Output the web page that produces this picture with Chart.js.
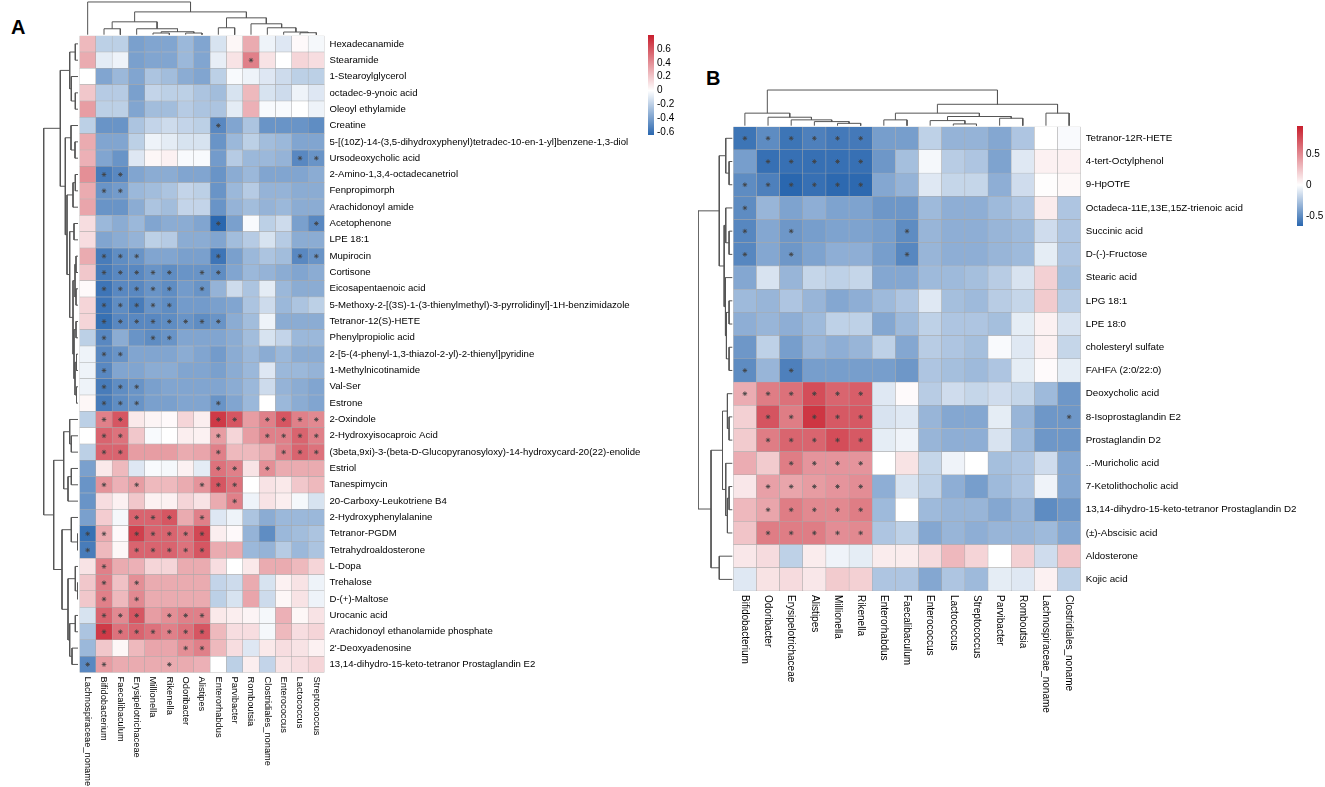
<!DOCTYPE html>
<html>
<head>
<meta charset="utf-8">
<title>Correlation heatmaps</title>
<script src="https://cdn.jsdelivr.net/npm/chart.js@4.4.0/dist/chart.umd.min.js"></script>
<style>
  body { margin: 0; background: #fff; width: 1325px; height: 787px; position: relative; overflow: hidden; font-family: "Liberation Sans", Arial, sans-serif; }
  .box { position: absolute; }
  .tag { position: absolute; font-weight: bold; font-size: 20px; line-height: 1; }
</style>
</head>
<body>
<div class="tag" style="left:11px;top:17px">A</div>
<div class="tag" style="left:706px;top:68px">B</div>
<div class="box" style="left:0;top:0;width:660px;height:787px"><canvas id="heatA"></canvas></div>
<div class="box" style="left:640px;top:25px;width:60px;height:125px"><canvas id="keyA"></canvas></div>
<div class="box" style="left:690px;top:0;width:620px;height:787px"><canvas id="heatB"></canvas></div>
<div class="box" style="left:1289px;top:116px;width:36px;height:120px"><canvas id="keyB"></canvas></div>
<script>
// ---- panel A ----
const colsA = ['Lachnospiraceae_noname', 'Bifidobacterium', 'Faecalibaculum', 'Erysipelotrichaceae', 'Millionella',
  'Rikenella', 'Odoribacter', 'Alistipes', 'Enterorhabdus', 'Parvibacter', 'Romboutsia', 'Clostridiales_noname',
  'Enterococcus', 'Lactococcus', 'Streptococcus'];

const rowsA = ['Hexadecanamide', 'Stearamide', '1-Stearoylglycerol', 'octadec-9-ynoic acid', 'Oleoyl ethylamide',
  'Creatine', '5-[(10Z)-14-(3,5-dihydroxyphenyl)tetradec-10-en-1-yl]benzene-1,3-diol', 'Ursodeoxycholic acid',
  '2-Amino-1,3,4-octadecanetriol', 'Fenpropimorph', 'Arachidonoyl amide', 'Acetophenone', 'LPE 18:1', 'Mupirocin',
  'Cortisone', 'Eicosapentaenoic acid', '5-Methoxy-2-[(3S)-1-(3-thienylmethyl)-3-pyrrolidinyl]-1H-benzimidazole',
  'Tetranor-12(S)-HETE', 'Phenylpropiolic acid', '2-[5-(4-phenyl-1,3-thiazol-2-yl)-2-thienyl]pyridine',
  '1-Methylnicotinamide', 'Val-Ser', 'Estrone', '2-Oxindole', '2-Hydroxyisocaproic Acid',
  '(3beta,9xi)-3-(beta-D-Glucopyranosyloxy)-14-hydroxycard-20(22)-enolide', 'Estriol', 'Tanespimycin',
  '20-Carboxy-Leukotriene B4', '2-Hydroxyphenylalanine', 'Tetranor-PGDM', 'Tetrahydroaldosterone', 'L-Dopa',
  'Trehalose', 'D-(+)-Maltose', 'Urocanic acid', 'Arachidonoyl ethanolamide phosphate', "2'-Deoxyadenosine",
  '13,14-dihydro-15-keto-tetranor Prostaglandin E2'];

const valuesA = [
  [0.25, -0.2, -0.2, -0.4, -0.38, -0.38, -0.3, -0.38, -0.12, 0.03, 0.3, -0.05, -0.1, 0.02, -0.03],
  [0.3, -0.08, -0.05, -0.4, -0.38, -0.38, -0.3, -0.38, -0.07, 0.1, 0.45, 0.1, 0.0, 0.15, 0.12],
  [0.0, -0.38, -0.3, -0.38, -0.25, -0.28, -0.35, -0.38, -0.2, -0.02, -0.05, -0.1, -0.15, -0.2, -0.2],
  [0.2, -0.22, -0.22, -0.4, -0.18, -0.2, -0.2, -0.25, -0.28, -0.12, 0.25, -0.12, -0.15, -0.05, -0.1],
  [0.35, -0.2, -0.2, -0.38, -0.28, -0.28, -0.22, -0.25, -0.25, -0.08, 0.28, -0.02, -0.02, 0.0, -0.05],
  [-0.2, -0.45, -0.45, -0.25, -0.18, -0.15, -0.18, -0.2, -0.5, -0.38, -0.25, -0.45, -0.45, -0.45, -0.48],
  [0.3, -0.38, -0.38, -0.2, -0.05, -0.08, -0.12, -0.12, -0.45, -0.3, -0.2, -0.28, -0.3, -0.38, -0.38],
  [0.28, -0.38, -0.45, -0.1, 0.03, 0.05, -0.02, -0.02, -0.42, -0.22, -0.3, -0.3, -0.32, -0.5, -0.45],
  [0.4, -0.55, -0.5, -0.38, -0.35, -0.35, -0.38, -0.38, -0.45, -0.35, -0.3, -0.38, -0.38, -0.38, -0.35],
  [0.3, -0.45, -0.42, -0.3, -0.28, -0.25, -0.18, -0.2, -0.45, -0.3, -0.22, -0.32, -0.32, -0.35, -0.35],
  [0.32, -0.45, -0.45, -0.35, -0.25, -0.28, -0.18, -0.18, -0.45, -0.32, -0.28, -0.32, -0.3, -0.35, -0.35],
  [0.12, -0.3, -0.35, -0.3, -0.38, -0.35, -0.35, -0.38, -0.65, -0.4, -0.02, -0.2, -0.15, -0.4, -0.5],
  [0.12, -0.38, -0.35, -0.32, -0.2, -0.22, -0.35, -0.35, -0.38, -0.28, -0.22, -0.12, -0.22, -0.35, -0.35],
  [0.3, -0.55, -0.48, -0.45, -0.38, -0.38, -0.4, -0.4, -0.58, -0.4, -0.3, -0.25, -0.28, -0.5, -0.45],
  [0.2, -0.55, -0.5, -0.5, -0.45, -0.48, -0.45, -0.45, -0.48, -0.38, -0.3, -0.32, -0.35, -0.38, -0.35],
  [0.02, -0.58, -0.5, -0.5, -0.45, -0.48, -0.42, -0.45, -0.32, -0.15, -0.25, -0.08, -0.3, -0.35, -0.35],
  [0.15, -0.58, -0.48, -0.55, -0.45, -0.48, -0.42, -0.42, -0.4, -0.38, -0.25, -0.15, -0.3, -0.25, -0.2],
  [0.15, -0.6, -0.5, -0.5, -0.5, -0.48, -0.45, -0.48, -0.45, -0.35, -0.28, -0.05, -0.35, -0.35, -0.35],
  [-0.2, -0.5, -0.35, -0.45, -0.48, -0.45, -0.38, -0.38, -0.38, -0.35, -0.28, -0.12, -0.18, -0.3, -0.3],
  [-0.05, -0.5, -0.45, -0.38, -0.38, -0.38, -0.35, -0.38, -0.42, -0.35, -0.3, -0.35, -0.3, -0.35, -0.35],
  [-0.05, -0.5, -0.38, -0.38, -0.35, -0.35, -0.38, -0.38, -0.4, -0.35, -0.3, -0.1, -0.3, -0.3, -0.32],
  [-0.05, -0.55, -0.48, -0.45, -0.4, -0.38, -0.38, -0.38, -0.38, -0.35, -0.3, -0.15, -0.32, -0.35, -0.38],
  [0.03, -0.55, -0.48, -0.45, -0.4, -0.4, -0.38, -0.38, -0.45, -0.38, -0.3, 0.0, -0.3, -0.35, -0.38],
  [-0.2, 0.45, 0.6, 0.08, 0.04, 0.02, 0.15, 0.06, 0.7, 0.6, 0.35, 0.45, 0.6, 0.45, 0.42],
  [0.0, 0.55, 0.5, 0.2, -0.02, 0.0, 0.06, 0.05, 0.35, 0.15, 0.35, 0.45, 0.45, 0.55, 0.45],
  [-0.2, 0.55, 0.55, 0.35, 0.35, 0.35, 0.3, 0.32, 0.45, 0.25, 0.25, 0.3, 0.45, 0.55, 0.5],
  [-0.4, 0.08, 0.25, -0.1, -0.02, -0.03, 0.05, -0.08, 0.5, 0.45, 0.1, 0.4, 0.3, 0.3, 0.3],
  [-0.45, 0.38, 0.28, 0.35, 0.25, 0.25, 0.3, 0.38, 0.6, 0.5, 0.0, 0.1, 0.08, 0.2, 0.25],
  [-0.45, 0.12, 0.05, 0.2, 0.05, 0.05, 0.15, 0.1, 0.3, 0.45, -0.05, 0.1, 0.06, -0.03, -0.12],
  [-0.4, 0.18, -0.03, 0.55, 0.55, 0.6, 0.3, 0.45, -0.1, -0.05, -0.25, -0.35, -0.3, -0.3, -0.3],
  [-0.6, 0.3, 0.02, 0.68, 0.55, 0.55, 0.5, 0.65, 0.06, 0.02, -0.32, -0.48, -0.3, -0.28, -0.25],
  [-0.55, 0.25, 0.03, 0.55, 0.55, 0.55, 0.5, 0.6, 0.3, 0.3, -0.3, -0.32, -0.22, -0.3, -0.25],
  [0.1, 0.45, 0.3, 0.28, 0.15, 0.15, 0.3, 0.3, 0.12, 0.0, 0.08, 0.3, 0.3, 0.25, 0.15],
  [0.2, 0.45, 0.22, 0.4, 0.3, 0.3, 0.3, 0.3, -0.18, -0.15, 0.3, -0.12, 0.05, 0.1, -0.05],
  [0.2, 0.45, 0.25, 0.42, 0.3, 0.3, 0.3, 0.3, -0.2, -0.12, 0.32, -0.15, 0.03, 0.1, -0.05],
  [-0.12, 0.55, 0.42, 0.6, 0.35, 0.4, 0.45, 0.45, 0.08, 0.06, 0.04, -0.03, 0.28, 0.03, 0.1],
  [-0.25, 0.7, 0.5, 0.55, 0.5, 0.45, 0.5, 0.6, 0.25, 0.12, 0.12, -0.03, 0.25, 0.12, 0.15],
  [-0.3, 0.2, 0.03, 0.25, 0.32, 0.32, 0.4, 0.45, 0.25, 0.12, -0.1, 0.08, 0.12, 0.1, 0.05],
  [-0.5, 0.35, 0.3, 0.3, 0.3, 0.3, 0.3, 0.28, 0.0, -0.2, 0.06, -0.18, 0.1, 0.12, 0.15]
];

// column indexes that carry a "*" in each row
const starsA = [[], [10], [], [], [], [8], [], [13, 14], [1, 2], [1, 2], [], [8, 14], [],
  [1, 2, 3, 8, 13, 14], [1, 2, 3, 4, 5, 7, 8], [1, 2, 3, 4, 5, 7], [1, 2, 3, 4, 5], [1, 2, 3, 4, 5, 6, 7, 8],
  [1, 4, 5], [1, 2], [1], [1, 2, 3], [1, 2, 3, 8], [1, 2, 8, 9, 11, 12, 13, 14], [1, 2, 8, 11, 12, 13, 14],
  [1, 2, 8, 12, 13, 14], [8, 9, 11], [1, 3, 7, 8, 9], [9], [3, 4, 5, 7], [0, 1, 3, 4, 5, 6, 7],
  [0, 3, 4, 5, 6, 7], [1], [1, 3], [1, 3], [1, 2, 3, 5, 6, 7], [1, 2, 3, 4, 5, 6, 7], [6, 7], [0, 1, 5]];

// dendrograms as [height, left, right], leaves are display indexes
const treeColsA = [33, 0, [23, [13, [6, 1, 2], [6, 3, [3, [1.7, 4, 5], [1.7, 6, 7]]]],
  [17, [7, 8, 9], [11, 10, [7, 11, [2.7, 12, [2, 13, 14]]]]]]];
const treeRowsA = [34.3,
  [17.7,
    [8.3, [2.7, 0, 1], [6.7, 2, [2.7, 3, 4]]],
    [12.7,
      [7, 5, [3, 6, 7]],
      [11,
        [5, [2.7, 8, 9], 10],
        [8.3, [4, 11, 12],
          [5, [3, [2, 13, 14], [2, 15, 16]], [4, [2, 17, 18], [3, [1.5, 19, 20], [1.5, 21, 22]]]]]]]],
  [24.3,
    [14.3, [8.3, 23, [6.7, 24, 25]], [10, [6.7, 26, 27], 28]],
    [16, [6.7, 29, [0.5, 30, 31]], [10, [2.7, 32, [0.5, 33, 34]], [8.3, [2.7, 35, 36], [6, 37, 38]]]]]];

const rangeA = [-0.64, 0.8];
const keyTicksA = [-0.6, -0.4, -0.2, 0, 0.2, 0.4, 0.6];

// ---- panel B ----
const colsB = ['Bifidobacterium', 'Odoribacter', 'Erysipelotrichaceae', 'Alistipes', 'Millionella', 'Rikenella',
  'Enterorhabdus', 'Faecalibaculum', 'Enterococcus', 'Lactococcus', 'Streptococcus', 'Parvibacter', 'Romboutsia',
  'Lachnospiraceae_noname', 'Clostridiales_noname'];

const rowsB = ['Tetranor-12R-HETE', '4-tert-Octylphenol', '9-HpOTrE', 'Octadeca-11E,13E,15Z-trienoic acid',
  'Succinic acid', 'D-(-)-Fructose', 'Stearic acid', 'LPG 18:1', 'LPE 18:0', 'cholesteryl sulfate',
  'FAHFA (2:0/22:0)', 'Deoxycholic acid', '8-Isoprostaglandin E2', 'Prostaglandin D2', '..-Muricholic acid',
  '7-Ketolithocholic acid', '13,14-dihydro-15-keto-tetranor Prostaglandin D2', '(±)-Abscisic acid',
  'Aldosterone', 'Kojic acid'];

const valuesB = [
  [-0.6, -0.5, -0.6, -0.55, -0.58, -0.58, -0.42, -0.42, -0.2, -0.33, -0.33, -0.38, -0.25, 0.0, -0.02],
  [-0.42, -0.62, -0.62, -0.62, -0.62, -0.62, -0.45, -0.28, -0.03, -0.22, -0.25, -0.4, -0.1, 0.06, 0.06],
  [-0.5, -0.55, -0.68, -0.62, -0.65, -0.65, -0.38, -0.33, -0.1, -0.18, -0.18, -0.35, -0.15, 0.01, 0.03],
  [-0.5, -0.32, -0.4, -0.35, -0.4, -0.4, -0.45, -0.45, -0.3, -0.35, -0.35, -0.3, -0.25, 0.08, -0.25],
  [-0.52, -0.38, -0.45, -0.42, -0.4, -0.4, -0.42, -0.5, -0.32, -0.35, -0.35, -0.32, -0.3, -0.15, -0.25],
  [-0.52, -0.38, -0.45, -0.4, -0.35, -0.35, -0.42, -0.52, -0.32, -0.35, -0.35, -0.32, -0.3, -0.08, -0.25],
  [-0.38, -0.12, -0.32, -0.18, -0.2, -0.18, -0.38, -0.38, -0.3, -0.3, -0.28, -0.22, -0.12, 0.2, -0.28],
  [-0.3, -0.32, -0.25, -0.32, -0.38, -0.35, -0.3, -0.25, -0.1, -0.28, -0.3, -0.22, -0.18, 0.22, -0.22],
  [-0.35, -0.32, -0.35, -0.3, -0.2, -0.2, -0.38, -0.3, -0.2, -0.25, -0.25, -0.28, -0.08, 0.06, -0.12],
  [-0.45, -0.2, -0.42, -0.32, -0.35, -0.32, -0.2, -0.38, -0.22, -0.25, -0.28, -0.02, -0.1, 0.06, -0.18],
  [-0.5, -0.32, -0.55, -0.42, -0.42, -0.42, -0.42, -0.45, -0.25, -0.28, -0.3, -0.25, -0.08, 0.02, -0.08],
  [0.35, 0.55, 0.6, 0.75, 0.65, 0.68, -0.1, 0.02, -0.22, -0.15, -0.18, -0.15, -0.18, -0.3, -0.45],
  [0.2, 0.72, 0.55, 0.85, 0.7, 0.7, -0.12, -0.1, -0.32, -0.38, -0.38, -0.08, -0.32, -0.45, -0.45],
  [0.22, 0.55, 0.65, 0.65, 0.75, 0.7, -0.08, -0.05, -0.32, -0.35, -0.35, -0.12, -0.3, -0.45, -0.45],
  [0.35, 0.22, 0.55, 0.45, 0.45, 0.45, 0.0, 0.12, -0.18, -0.05, 0.0, -0.28, -0.25, -0.15, -0.38],
  [0.1, 0.4, 0.38, 0.42, 0.45, 0.48, -0.35, -0.12, -0.2, -0.35, -0.42, -0.3, -0.25, -0.05, -0.38],
  [0.3, 0.38, 0.55, 0.5, 0.5, 0.55, -0.3, 0.0, -0.3, -0.32, -0.32, -0.38, -0.32, -0.5, -0.45],
  [0.25, 0.55, 0.55, 0.55, 0.48, 0.5, -0.25, -0.2, -0.38, -0.32, -0.35, -0.32, -0.32, -0.3, -0.38],
  [0.1, 0.15, -0.2, 0.08, -0.05, -0.08, 0.08, 0.08, 0.15, 0.3, 0.18, 0.0, 0.2, -0.15, 0.25],
  [-0.1, 0.12, 0.15, 0.1, 0.22, 0.2, -0.25, -0.25, -0.38, -0.25, -0.3, -0.08, -0.1, 0.06, -0.2]
];

const starsB = [[0, 1, 2, 3, 4, 5], [1, 2, 3, 4, 5], [0, 1, 2, 3, 4, 5], [0], [0, 2, 7], [0, 2, 7], [], [], [], [],
  [0, 2], [0, 1, 2, 3, 4, 5], [1, 2, 3, 4, 5, 14], [1, 2, 3, 4, 5], [2, 3, 4, 5], [1, 2, 3, 4, 5],
  [1, 2, 3, 4, 5], [1, 2, 3, 4, 5], [], []];

const treeColsB = [35, [12.3, 0, [8.3, 1, [5.7, 2, [4, 3, [2.3, 4, 5]]]]],
  [21, [12.3, [5.7, 6, 7], [9, [5, 8, [1.7, 9, 10]], [7.3, 11, 12]]], [12.3, 13, 14]]];
const treeRowsB = [35,
  [13.3, [6.7, 0, [3.3, 1, 2]], [8.3, [6.7, 3, [3.3, 4, 5]], [7, 6, [6, [3.3, 7, 8], [3.3, 9, 10]]]]],
  [21.7, [10, [5, 11, [3.3, 12, 13]], [6.7, 14, [5, [3.3, 15, 16], 17]]], [13.3, 18, 19]]];

const rangeB = [-0.66, 0.95];
const keyTicksB = [-0.5, 0, 0.5];

const lowColor = [42, 103, 175];
const highColor = [200, 30, 45];
const fontFamily = '"Liberation Sans", Arial, sans-serif';

function cellColor(v, range) {
  let t, c;
  if (v < 0) {
    t = Math.min(v / range[0], 1);
    c = lowColor;
  } else {
    t = Math.min(v / range[1], 1);
    c = highColor;
  }
  const mix = c.map(ch => Math.round(255 + (ch - 255) * t));
  return `rgb(${mix[0]}, ${mix[1]}, ${mix[2]})`;
}

// turn a nested tree into U-shaped line pieces separated by gaps
function treeLines(tree, leafOnX) {
  const pts = [];
  function walk(node) {
    if (typeof node === 'number') return { pos: node, h: 0 };
    const a = walk(node[1]);
    const b = walk(node[2]);
    [[a.pos, a.h], [a.pos, node[0]], [b.pos, node[0]], [b.pos, b.h]].forEach(p => {
      pts.push(leafOnX ? { x: p[0], y: p[1] } : { x: p[1], y: p[0] });
    });
    pts.push({ x: null, y: null });
    return { pos: (a.pos + b.pos) / 2, h: node[0] };
  }
  walk(tree);
  return pts;
}

// label padding would push the plot down, the layout is set by hand
function noPad(s) {
  s.paddingTop = 0;
  s.paddingBottom = 0;
}

function bareAxis(extra) {
  return Object.assign({
    type: 'linear',
    offset: false,
    ticks: { display: false },
    grid: { display: false, drawTicks: false },
    border: { display: false }
  }, extra);
}

function colLabelPlugin(cols, size) {
  return {
    id: 'colLabels',
    afterDraw(chart) {
      const { ctx, scales } = chart;
      ctx.save();
      ctx.font = `${size}px ${fontFamily}`;
      ctx.fillStyle = '#000';
      ctx.textAlign = 'left';
      ctx.textBaseline = 'middle';
      cols.forEach((name, j) => {
        ctx.save();
        ctx.translate(scales.x.getPixelForValue(j), scales.y.bottom + 4);
        ctx.rotate(Math.PI / 2);
        ctx.fillText(name, 0, 0);
        ctx.restore();
      });
      ctx.restore();
    }
  };
}

function makeHeatmap(id, rows, cols, values, stars, treeCols, treeRows, range, geo) {
  const cells = [];
  const colors = [];
  values.forEach((row, i) => row.forEach((v, j) => {
    cells.push({ x: [j - 0.5, j + 0.5], y: i });
    colors.push(cellColor(v, range));
  }));

  const starPts = [];
  stars.forEach((cs, i) => cs.forEach(j => starPts.push({ x: j, y: i })));

  const lineStyle = { type: 'line', pointRadius: 0, borderColor: '#555', borderWidth: 1, spanGaps: false, tension: 0, fill: false };

  new Chart(document.getElementById(id), {
    type: 'scatter',
    data: {
      datasets: [
        { type: 'scatter', data: starPts, xAxisID: 'x', yAxisID: 'y', pointStyle: 'star', pointRadius: 2.3,
          borderColor: '#404040', borderWidth: 0.8, backgroundColor: 'transparent', order: 0 },
        Object.assign({ data: treeLines(treeCols, true), xAxisID: 'x', yAxisID: 'yd', order: 1 }, lineStyle),
        Object.assign({ data: treeLines(treeRows, false), xAxisID: 'xd', yAxisID: 'y', order: 1 }, lineStyle),
        { type: 'bar', data: cells, indexAxis: 'y', xAxisID: 'x', yAxisID: 'y', backgroundColor: colors,
          borderColor: '#a8a8a8', borderWidth: 0.5, borderSkipped: false, barPercentage: 1,
          categoryPercentage: 1, grouped: false, order: 2 }
      ]
    },
    options: {
      responsive: true,
      maintainAspectRatio: false,
      animation: false,
      layout: { autoPadding: false, padding: geo.pad },
      plugins: { legend: { display: false }, tooltip: { enabled: false } },
      scales: {
        xd: bareAxis({ position: 'bottom', stack: 'bottom', stackWeight: geo.dendroW, reverse: true,
          min: geo.xdRange[0], max: geo.xdRange[1], afterFit: s => { s.height = 0; } }),
        x: bareAxis({ position: 'bottom', stack: 'bottom', stackWeight: geo.heatW,
          min: -0.5, max: cols.length - 0.5, afterFit: s => { s.height = 0; } }),
        yd: bareAxis({ position: 'right', stack: 'right', stackWeight: geo.dendroH,
          min: geo.ydRange[0], max: geo.ydRange[1], afterFit: s => { s.width = geo.labelW; noPad(s); } }),
        y: {
          type: 'linear',
          offset: false,
          position: 'right',
          stack: 'right',
          stackWeight: geo.heatH,
          reverse: true,
          min: -0.5,
          max: rows.length - 0.5,
          afterBuildTicks: s => { s.ticks = rows.map((r, i) => ({ value: i })); },
          afterFit: s => { s.width = geo.labelW; noPad(s); },
          ticks: { autoSkip: false, padding: 5, color: '#000', font: { family: fontFamily, size: geo.rowFont },
            callback: v => rows[v] },
          grid: { display: false, drawTicks: false },
          border: { display: false }
        }
      }
    },
    plugins: [colLabelPlugin(cols, geo.colFont)]
  });
}

function makeKey(id, range, ticks, pad, labelW) {
  new Chart(document.getElementById(id), {
    type: 'bar',
    data: {
      labels: [''],
      datasets: [{
        data: [range],
        barPercentage: 1,
        categoryPercentage: 1,
        borderWidth: 0,
        backgroundColor: ctx => {
          const chart = ctx.chart;
          const y = chart.scales.y;
          if (!chart.chartArea || !y) return '#fff';
          const g = chart.ctx.createLinearGradient(0, y.getPixelForValue(range[0]), 0, y.getPixelForValue(range[1]));
          g.addColorStop(0, cellColor(range[0], range));
          g.addColorStop(-range[0] / (range[1] - range[0]), '#fff');
          g.addColorStop(1, cellColor(range[1], range));
          return g;
        }
      }]
    },
    options: {
      responsive: true,
      maintainAspectRatio: false,
      animation: false,
      layout: { autoPadding: false, padding: pad },
      plugins: { legend: { display: false }, tooltip: { enabled: false } },
      scales: {
        x: { display: false },
        y: {
          type: 'linear',
          position: 'right',
          min: range[0],
          max: range[1],
          afterBuildTicks: s => { s.ticks = ticks.map(v => ({ value: v })); },
          afterFit: s => { s.width = labelW; noPad(s); },
          ticks: { padding: 3, color: '#000', font: { family: fontFamily, size: 10 },
            callback: v => (v === 0 ? '0' : v.toFixed(1)) },
          grid: { display: false, drawTicks: false },
          border: { display: false }
        }
      }
    }
  });
}

makeHeatmap('heatA', rowsA, colsA, valuesA, starsA, treeColsA, treeRowsA, rangeA, {
  pad: { left: 43, top: 0, right: 0, bottom: 114.4 },
  dendroW: 36.5, heatW: 245, dendroH: 35.7, heatH: 636.9, labelW: 335.5,
  xdRange: [-1.5, 35], ydRange: [-1, 35], rowFont: 9.6, colFont: 9.3
});

makeHeatmap('heatB', rowsB, colsB, valuesB, starsB, treeColsB, treeRowsB, rangeB, {
  pad: { left: 8, top: 89, right: 0, bottom: 196 },
  dendroW: 35.3, heatW: 347.4, dendroH: 37.7, heatH: 464.3, labelW: 229.3,
  xdRange: [-1, 35], ydRange: [-1, 36], rowFont: 9.8, colFont: 10
});

makeKey('keyA', rangeA, keyTicksA, { left: 8, top: 10, right: 0, bottom: 15 }, 46);
makeKey('keyB', rangeB, keyTicksB, { left: 8, top: 10, right: 0, bottom: 10 }, 22);
</script>
</body>
</html>
